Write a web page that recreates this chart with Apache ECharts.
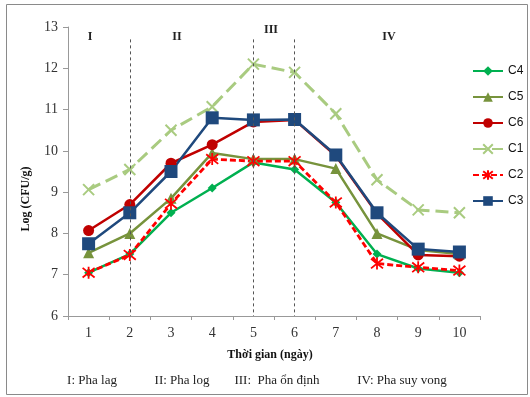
<!DOCTYPE html>
<html>
<head>
<meta charset="utf-8">
<script src="https://cdn.jsdelivr.net/npm/echarts@6/dist/echarts.min.js"></script>
<style>
  html, body { margin: 0; padding: 0; background: #fff; }
  #chart { width: 530px; height: 397px; }
</style>
</head>
<body>
<div id="chart"></div>
<script>
// Days of culture
const days = ['1', '2', '3', '4', '5', '6', '7', '8', '9', '10'];

// Log(CFU/g) per day for each sample
const c4 = [7.05, 7.5, 8.5, 9.1, 9.72, 9.55, 8.75, 7.5, 7.15, 7.05];
const c5 = [7.53, 8.0, 8.85, 9.95, 9.8, 9.8, 9.57, 8.0, 7.6, 7.5];
const c6 = [8.07, 8.7, 9.7, 10.15, 10.7, 10.75, 9.88, 8.48, 7.48, 7.45];
const c1 = [9.06, 9.55, 10.5, 11.07, 12.1, 11.9, 10.9, 9.3, 8.57, 8.5];
const c2 = [7.05, 7.48, 8.72, 9.8, 9.75, 9.75, 8.75, 7.27, 7.18, 7.1];
const c3 = [7.75, 8.5, 9.5, 10.8, 10.75, 10.76, 9.9, 8.5, 7.62, 7.55];

// Growth-phase boundaries (days) and labels
const phaseBoundaries = ['2', '5', '6'];
const phaseTop = 12.7;
const phaseMarks = ['I', 'II', 'III', 'IV'];
const phaseNotes = ['I: Pha lag', 'II: Pha log', 'III:  Pha ổn định', 'IV: Pha suy vong'];

const yMin = 6, yMax = 13, yStep = 1;

const serif = '"Liberation Serif", "Times New Roman", serif';
const sans = '"Liberation Sans", Arial, sans-serif';

const crossPath = 'path://M0,0L10,10M10,0L0,10';
const starPath = 'path://M1,1L9,9M9,1L1,9M5,0L5,10';

function lineSeries(name, data, color, symbol, size, opts) {
  const s = {
    name: name,
    type: 'line',
    data: data,
    symbol: symbol,
    symbolSize: size,
    lineStyle: { color: color, width: 2.5, type: 'solid' },
    itemStyle: { color: color },
    emphasis: { disabled: true }
  };
  return Object.assign(s, opts || {});
}

const chart = echarts.init(document.getElementById('chart'), null, { renderer: 'canvas' });

const series = [
  lineSeries('C4', c4, '#00B050', 'diamond', 9, {
    markLine: {
      silent: true,
      symbol: ['none', 'none'],
      label: { show: false },
      lineStyle: { color: '#555', width: 1, type: [3, 3] },
      data: phaseBoundaries.map(d => [{ coord: [d, phaseTop] }, { coord: [d, yMin] }])
    }
  }),
  lineSeries('C5', c5, '#77933C', 'triangle', 11),
  lineSeries('C6', c6, '#C00000', 'circle', 11),
  lineSeries('C1', c1, '#A9CB80', crossPath, 11, {
    lineStyle: { color: '#A9CB80', width: 3, type: [13, 6] },
    itemStyle: { color: 'transparent', borderColor: '#A9CB80', borderWidth: 2 }
  }),
  lineSeries('C2', c2, '#FF0000', starPath, 12, {
    lineStyle: { color: '#FF0000', width: 2.8, type: [6, 3] },
    itemStyle: { color: 'transparent', borderColor: '#FF0000', borderWidth: 1.8 }
  }),
  lineSeries('C3', c3, '#1F497D', 'rect', 13)
];

const phaseX = [90, 177, 271, 389];
const phaseY = [37, 37, 30, 37];
const noteX = [92, 182, 277, 402];

const graphics = [
  {
    type: 'rect', silent: true, z: -1,
    shape: { x: 6.5, y: 4.5, width: 521, height: 390 },
    style: { fill: 'none', stroke: '#8a8a8a', lineWidth: 1 }
  },
  {
    type: 'text', silent: true,
    x: 26, y: 199, rotation: Math.PI / 2,
    style: {
      text: 'Log (CFU/g)', font: 'bold 12px ' + serif, fill: '#111',
      align: 'center', verticalAlign: 'middle'
    }
  },
  {
    type: 'text', silent: true,
    x: 270, y: 355,
    style: {
      text: 'Thời gian (ngày)', font: 'bold 12px ' + serif, fill: '#111',
      align: 'center', verticalAlign: 'middle'
    }
  }
];
phaseMarks.forEach((t, i) => graphics.push({
  type: 'text', silent: true, x: phaseX[i], y: phaseY[i],
  style: { text: t, font: 'bold 12px ' + serif, fill: '#222', align: 'center', verticalAlign: 'middle' }
}));
phaseNotes.forEach((t, i) => graphics.push({
  type: 'text', silent: true, x: noteX[i], y: 381,
  style: { text: t, font: '13px ' + serif, fill: '#222', align: 'center', verticalAlign: 'middle' }
}));

chart.setOption({
  animation: false,
  backgroundColor: '#fff',
  grid: { left: 68, right: 50, top: 27, bottom: 81, containLabel: false },
  legend: {
    orient: 'vertical',
    left: 472,
    top: 65,
    padding: 0,
    itemWidth: 30,
    itemHeight: 12,
    itemGap: 14,
    selectedMode: false,
    textStyle: { fontFamily: sans, fontSize: 12, color: '#111' },
    data: ['C4', 'C5', 'C6', 'C1', 'C2', 'C3']
  },
  xAxis: {
    type: 'category',
    data: days,
    boundaryGap: true,
    axisLine: { lineStyle: { color: '#999', width: 1 } },
    axisTick: { show: true, length: 4, lineStyle: { color: '#999' } },
    axisLabel: { fontFamily: serif, fontSize: 14, color: '#333', margin: 10 },
    splitLine: { show: false }
  },
  yAxis: {
    type: 'value',
    min: yMin,
    max: yMax,
    interval: yStep,
    axisLine: { show: true, lineStyle: { color: '#999', width: 1 } },
    axisTick: { show: true, length: 5, lineStyle: { color: '#999' } },
    axisLabel: { fontFamily: serif, fontSize: 14, color: '#333', margin: 10 },
    splitLine: { show: false }
  },
  series: series,
  graphic: graphics
});
</script>
</body>
</html>
